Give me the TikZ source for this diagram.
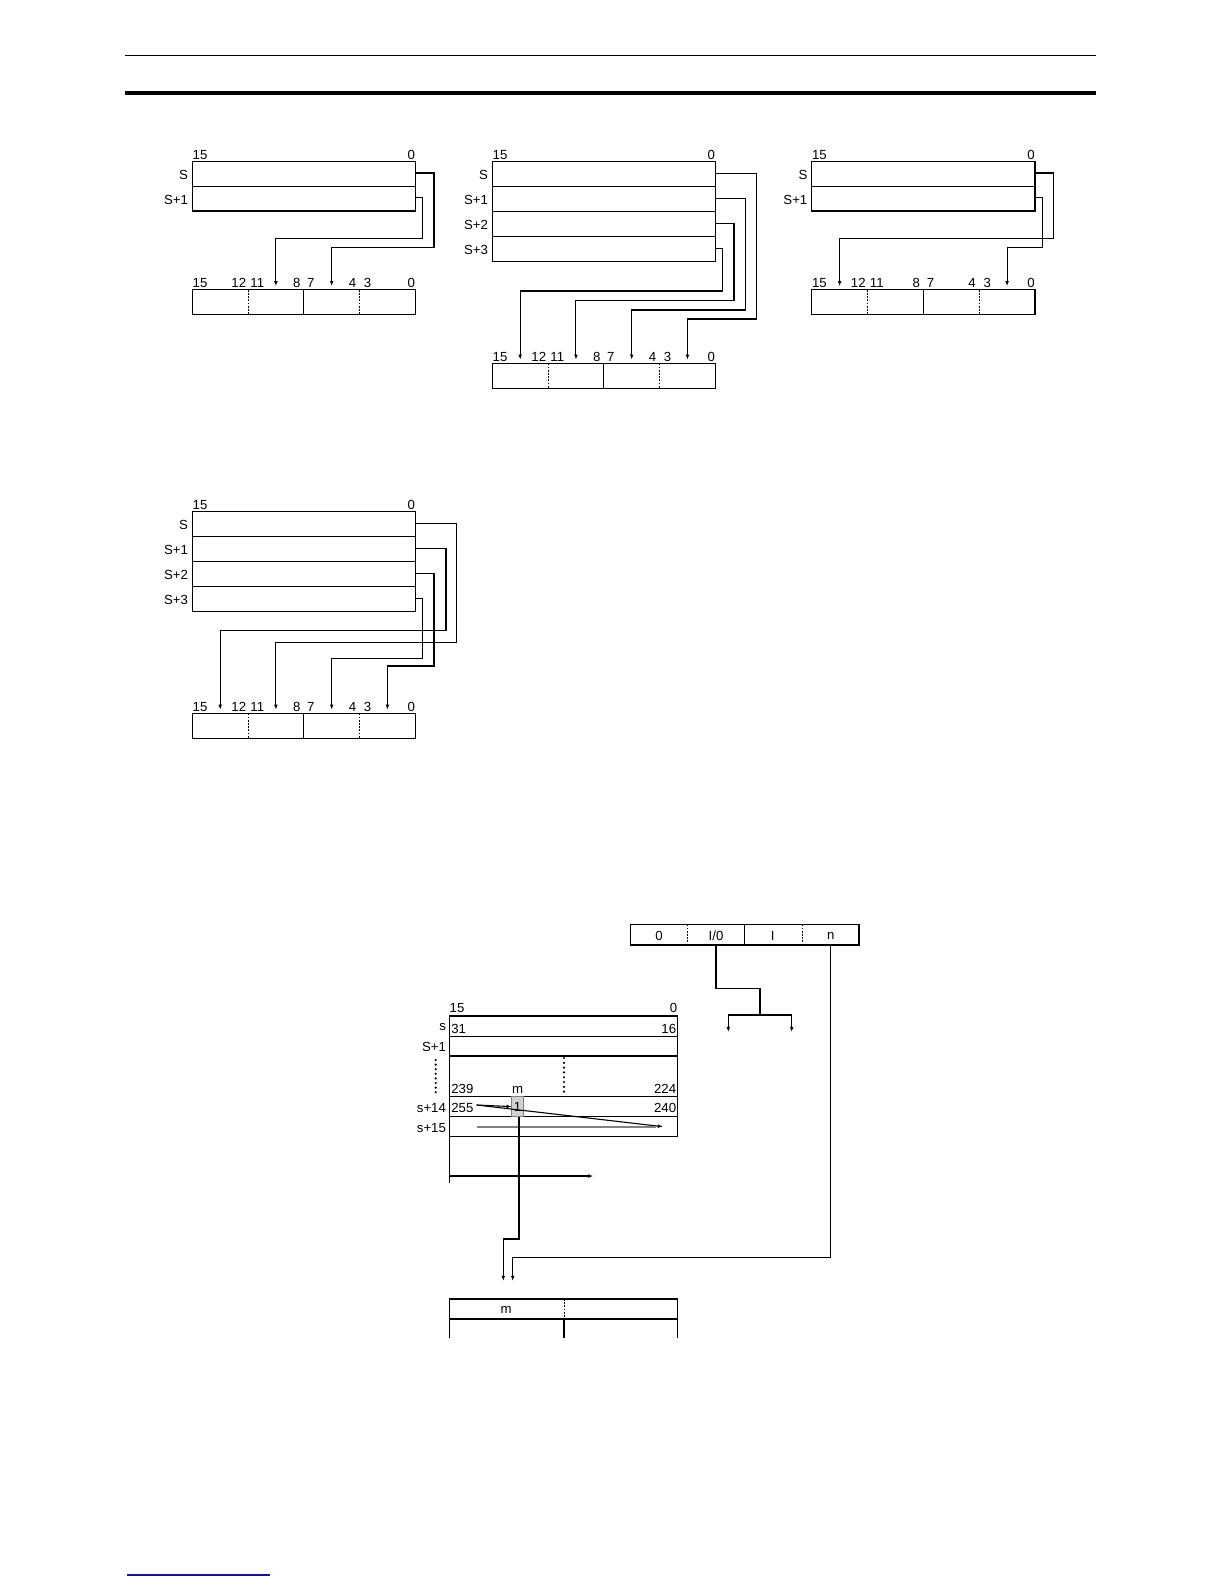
\documentclass[tikz,border=0pt]{standalone}
\usepackage{fontspec}
\setmainfont{Liberation Sans}
\usetikzlibrary{arrows.meta}
\newcommand\srcblock[7]{%
  \draw[reg] (#2,#4) rectangle (#3,{#4+#6*#5});
  \foreach \k in {1,...,#6}{\draw[reg] (#2,{#4+\k*#5}) -- (#3,{#4+\k*#5});}
  \node[lbl,anchor=base west] (#1top15) at (#2,#4-2.5) {15};
  \node[lbl,anchor=base east] (#1top0) at (#3,#4-2.5) {0};
  \foreach \t [count=\k from 0] in {#7}{%
    \node[lbl,anchor=east] (#1r\k) at (#2-4,{#4+\k*#5+#5/2+1}) {\t};
    \coordinate (#1o\k) at (#3,{#4+\k*#5+#5/2-1});
  }%
}
\newcommand\dstblock[5]{%
  \pgfmathsetmacro\bw{(#3-#2)/16}
  \draw[reg] (#2,#4) rectangle (#3,#5);
  \draw[reg] ({#2+8*\bw},#4) -- ({#2+8*\bw},#5);
  \draw[dsh] ({#2+4*\bw},#4) -- ({#2+4*\bw},#5);
  \draw[dsh] ({#2+12*\bw},#4) -- ({#2+12*\bw},#5);
  \node[lbl,anchor=base west] (#1b15) at (#2,#4-2) {15};
  \node[lbl,anchor=base east] (#1b12) at ({#2+4*\bw-1.5},#4-2) {12};
  \node[lbl,anchor=base west] (#1b11) at ({#2+4*\bw+2},#4-2) {11};
  \node[lbl,anchor=base east] (#1b8) at ({#2+8*\bw-3},#4-2) {8};
  \node[lbl,anchor=base west] (#1b7) at ({#2+8*\bw+3},#4-2) {7};
  \node[lbl,anchor=base east] (#1b4) at ({#2+12*\bw-3},#4-2) {4};
  \node[lbl,anchor=base west] (#1b3) at ({#2+12*\bw+4},#4-2) {3};
  \node[lbl,anchor=base east] (#1b0) at (#3,#4-2) {0};
  \coordinate (#1n3) at ({#2+2*\bw},#4-3.5);
  \coordinate (#1n2) at ({#2+6*\bw},#4-3.5);
  \coordinate (#1n1) at ({#2+10*\bw},#4-3.5);
  \coordinate (#1n0) at ({#2+14*\bw},#4-3.5);
}
\begin{document}
\begin{tikzpicture}[x=0.5pt,y=-0.5pt,
  font=\fontsize{6.6}{7.8}\selectfont,
  reg/.style={draw,line width=0.55pt},
  conn/.style={line width=0.55pt},
  arr/.style={conn,-{Latex[length=2.6pt,width=1.9pt]}},
  lbl/.style={inner sep=0pt},
  dsh/.style={dash pattern=on 0.9pt off 0.7pt,line width=0.5pt}]
\useasboundingbox (0,0) rectangle (1224,1584);
% header and footer
\draw[line width=0.75pt] (125,55.5) -- (1096,55.5);
\fill (125,90.7) rectangle (1096,95.5);
\definecolor{footblue}{RGB}{20,20,140}
\draw[footblue,line width=0.6pt] (127,1575) -- (270,1575);

% ---------- diagram A (top left)
\srcblock{A}{192.3}{415.3}{161.7}{24.65}{2}{S,S+1}
\dstblock{AD}{192.3}{415.3}{289.7}{314.3}
\draw[arr] (Ao0) -| (434,247.3) -| (ADn1);
\draw[arr] (Ao1) -| (422.7,238.3) -| (ADn2);

% ---------- diagram B (top middle)
\srcblock{B}{492.3}{715.3}{161.7}{25}{4}{S,S+1,S+2,S+3}
\dstblock{BD}{492.3}{715.3}{363.3}{388.3}
\draw[arr] (Bo0) -| (756.7,319) -| (BDn0);
\draw[arr] (Bo1) -| (745.7,310) -| (BDn1);
\draw[arr] (Bo2) -| (734,300.3) -| (BDn2);
\draw[arr] (Bo3) -| (722.7,291) -| (BDn3);

% ---------- diagram C (top right)
\srcblock{C}{811.7}{1035}{161.7}{24.65}{2}{S,S+1}
\dstblock{CD}{811.7}{1035}{289.7}{314.3}
\draw[arr] (Co0) -| (1053.3,238.3) -| (CDn3);
\draw[arr] (Co1) -| (1042.7,247.3) -| (CDn0);

% ---------- diagram D (middle left)
\srcblock{D}{192.3}{415.3}{511.7}{25}{4}{S,S+1,S+2,S+3}
\dstblock{DD}{192.3}{415.3}{713.3}{738.3}
\draw[arr] (Do0) -| (456.7,642.3) -| (DDn2);
\draw[arr] (Do1) -| (446,630.7) -| (DDn3);
\draw[arr] (Do2) -| (434,666) -| (DDn0);
\draw[arr] (Do3) -| (422.7,658.3) -| (DDn1);

% ---------- bottom section: control word
\draw[reg] (630.7,924.3) rectangle (859,945);
\draw[reg] (744.3,924.3) -- (744.3,945);
\draw[dsh] (687.3,924.3) -- (687.3,945);
\draw[dsh] (802,924.3) -- (802,945);
\node[lbl] (c0) at (659,935.7) {0};
\node[lbl] (cIO) at (716,935.7) {I/0};
\node[lbl] (cI) at (772.7,935.7) {I};
\node[lbl] (cn) at (830.7,935.7) {n};
\coordinate (cIOb) at (716,945);
\coordinate (cnb) at (830.7,945);
\coordinate (br) at (760,1015);
\coordinate (brL) at (728.3,1015);
\coordinate (brR) at (791.7,1015);
\coordinate (brLe) at (728.3,1032);
\coordinate (brRe) at (791.7,1032);
\draw[conn] (cIOb) |- (760,988.3) -- (br);
\draw[conn] (brL) -- (brR);
\draw[arr] (brL) -- (brLe);
\draw[arr] (brR) -- (brRe);

% ---------- source table
\draw[reg] (449.3,1016) rectangle (677.7,1136.7);
\foreach \yy in {1036.3,1056,1096.7,1116.7} \draw[reg] (449.3,\yy) -- (677.7,\yy);
\node[lbl,anchor=base west] (t15) at (449.3,1012.6) {15};
\node[lbl,anchor=base east] (t0) at (677.7,1012.6) {0};
\node[lbl,anchor=east] (ts) at (446.3,1027) {s};
\node[lbl,anchor=east] (ts1) at (446.3,1047) {S+1};
\node[lbl,anchor=east] (ts14) at (446.3,1107.7) {s+14};
\node[lbl,anchor=east] (ts15) at (446.3,1127.7) {s+15};
\node[lbl,anchor=base west] (v31) at (451,1033.8) {31};
\node[lbl,anchor=base east] (v16) at (676.5,1033.8) {16};
\node[lbl,anchor=base west] (v239) at (451,1093.6) {239};
\node[lbl,anchor=base east] (v224) at (676.5,1093.6) {224};
\node[lbl,anchor=base] (vm) at (517.5,1093.6) {m};
\node[lbl,anchor=base west] (v255) at (451,1112.4) {255};
\node[lbl,anchor=base east] (v240) at (676.5,1112.4) {240};
\foreach \k in {0,...,7}{
  \fill (435.7,{1060+\k*4.6}) circle[radius=0.6pt];
  \fill (564,{1058+\k*4.8}) circle[radius=0.6pt];
}
\draw[draw=gray,fill=gray!35,line width=0.4pt] (511.7,1096.7) rectangle (523.3,1116.7);
\node[lbl] (bit1) at (517.5,1107) {1};
\coordinate (p255) at (476.7,1105);
\coordinate (pbox) at (511.7,1106.6);
\coordinate (pend) at (663,1126.7);
\draw[arr] (p255) -- (pbox);
\draw[arr] (p255) -- (pend);
\draw[gray,line width=0.9pt] (477.3,1126.7) -- (656,1126.7);
% axis below table
\coordinate (axo) at (449.3,1136.7);
\coordinate (axe) at (593.3,1176);
\draw[conn] (axo) -- (449.3,1182.7);
\draw[arr] (449.3,1176) -- (axe);
% connectors to destination
\coordinate (bitb) at (519,1116.7);
\coordinate (dm) at (503.3,1281);
\coordinate (dn) at (512.7,1281);
\draw[arr,line width=0.7pt] (bitb) |- (503.3,1239) -- (dm);
\draw[arr,line width=0.7pt] (cnb) |- (512.7,1257.3) -- (dn);
% destination table
\draw[reg] (449.3,1338) -- (449.3,1299) -- (677.7,1299) -- (677.7,1338);
\draw[reg] (449.3,1319) -- (677.7,1319);
\draw[dsh] (564,1299) -- (564,1319);
\draw[reg] (564,1319) -- (564,1338);
\node[lbl] (dmlab) at (506,1310) {m};
\end{tikzpicture}
\end{document}
